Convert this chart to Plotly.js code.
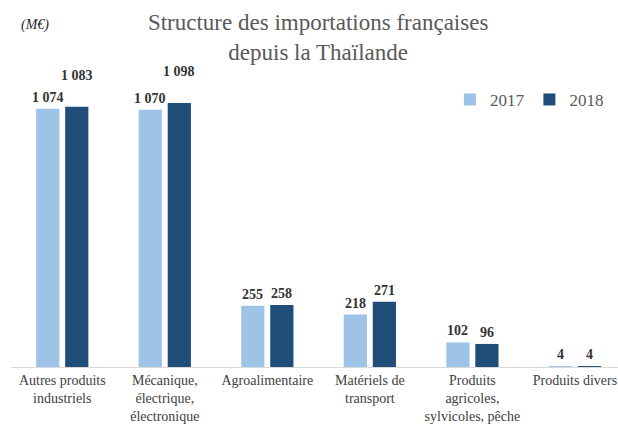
<!DOCTYPE html>
<html>
<head>
<meta charset="utf-8">
<script src="https://cdn.plot.ly/plotly-3.0.1.min.js"></script>
<style>
  body { margin: 0; background: #fff; }
  #chart { width: 618px; height: 425px; }
</style>
</head>
<body>
<div id="chart"></div>
<script>
// data (M€)
const categories = [
  "Autres produits<br>industriels",
  "Mécanique,<br>électrique,<br>électronique",
  "Agroalimentaire",
  "Matériels de<br>transport",
  "Produits<br>agricoles,<br>sylvicoles, pêche",
  "Produits divers"
];
const values2017 = [1074, 1070, 255, 218, 102, 4];
const values2018 = [1083, 1098, 258, 271, 96, 4];
const seriesNames = ["2017", "2018"];

const serif = "'Liberation Serif', 'DejaVu Serif', serif";
const colors = ["#9dc3e6", "#1f4e79"];

// french thousand separator
function fmt(v) {
  return String(v).replace(/\B(?=(\d{3})+(?!\d))/g, " ");
}

let traces = [values2017, values2018].map(function (vals, s) {
  return {
    type: "bar",
    name: seriesNames[s],
    x: categories,
    y: vals,
    marker: { color: colors[s] },
    hoverinfo: "x+y"
  };
});

// value labels, the 2018 ones on the two big groups sit higher
let annotations = [];
[values2017, values2018].forEach(function (vals, s) {
  for (let i = 0; i < vals.length; i++) {
    let lift = (s == 1 && i < 2) ? 20 : 0;
    annotations.push({
      x: categories[i],
      y: vals[i],
      xref: "x",
      yref: "y",
      xshift: s == 0 ? -14.5 : 14.5,
      yshift: 2 + lift,
      yanchor: "bottom",
      text: "<b>" + fmt(vals[i]) + "</b>",
      showarrow: false,
      font: { family: serif, size: 14, color: "#333333" }
    });
  }
});

annotations.push({
  xref: "paper",
  yref: "paper",
  x: 0.014,
  y: 1.115,
  xanchor: "left",
  yanchor: "middle",
  text: "<i>(M€)</i>",
  showarrow: false,
  font: { family: serif, size: 14, color: "#262626" }
});

let layout = {
  width: 618,
  height: 425,
  margin: { l: 11, r: 0, t: 60, b: 58 },
  paper_bgcolor: "#ffffff",
  plot_bgcolor: "#ffffff",
  title: {
    text: "Structure des importations françaises<br>depuis la Thaïlande",
    x: 0.506,
    xanchor: "center",
    xref: "paper",
    y: 0.93,
    yref: "container",
    yanchor: "top",
    automargin: false,
    font: { family: serif, size: 23, color: "#595959" }
  },
  barmode: "group",
  bargap: 0.434,
  bargroupgap: 0.2,
  xaxis: {
    type: "category",
    range: [-0.5, 5.42],
    automargin: false,
    showline: true,
    linecolor: "#d9d9d9",
    linewidth: 1,
    ticks: "",
    tickfont: { family: serif, size: 14, color: "#404040" },
    fixedrange: true
  },
  yaxis: {
    range: [0, 1277],
    visible: false,
    showgrid: false,
    zeroline: false,
    automargin: false,
    fixedrange: true
  },
  showlegend: true,
  legend: {
    orientation: "h",
    x: 0.985,
    y: 0.87,
    xanchor: "right",
    yanchor: "middle",
    bgcolor: "rgba(0,0,0,0)",
    font: { family: serif, size: 17, color: "#595959" },
    itemwidth: 30,
    traceorder: "normal"
  },
  annotations: annotations
};

Plotly.newPlot("chart", traces, layout, { displayModeBar: false, staticPlot: true });
</script>
</body>
</html>
